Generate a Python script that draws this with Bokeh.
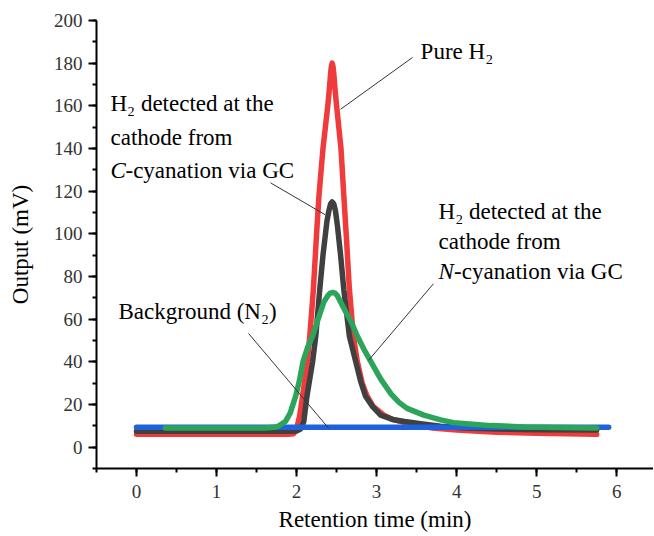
from bokeh.plotting import figure
from bokeh.models import Range1d, SingleIntervalTicker, Label
from bokeh.embed import file_html
from bokeh.resources import INLINE

# ---- data ----
red_x = [0, 1.0, 1.9, 1.96, 1.985, 2.01, 2.04, 2.075, 2.135, 2.165, 2.21, 2.25, 2.28, 2.33,
         2.39, 2.41, 2.425, 2.435, 2.445, 2.455, 2.465, 2.48, 2.50, 2.555, 2.59, 2.62, 2.66,
         2.71, 2.76, 2.82, 2.88, 2.96, 3.09, 3.2, 3.35, 3.5, 3.7, 4.0, 4.5, 5.0, 5.75]
red_y = [6, 6, 6, 6.3, 7.5, 10, 15, 24, 40, 52, 74, 100, 118, 140,
         160, 168, 175, 178.5, 180, 178.5, 175, 168, 160, 140, 118, 100, 74,
         52, 40, 30, 24, 19, 15, 13, 11.5, 10.3, 9, 8, 7, 6.5, 6]

gray_x = [0, 1.9, 2.0, 2.05, 2.09, 2.13, 2.2, 2.24, 2.29, 2.33, 2.38, 2.405, 2.425, 2.445,
          2.465, 2.485, 2.51, 2.55, 2.59, 2.66, 2.74, 2.8, 2.86, 2.95, 3.05, 3.2, 3.35, 3.55,
          3.8, 4.1, 4.5, 5.0, 5.75]
gray_y = [7.5, 7.5, 7.6, 8.5, 12, 24, 40, 52, 74, 90, 106, 111, 114, 115,
          114, 111, 104, 90, 74, 52, 40, 31, 24, 19, 15, 13, 12, 11,
          9.8, 9, 8.5, 8.2, 8]

green_x = [0.36, 1.0, 1.6, 1.72, 1.78, 1.86, 1.92, 1.99, 2.04, 2.08, 2.14, 2.2, 2.26, 2.34,
           2.39, 2.42, 2.45, 2.48, 2.51, 2.55, 2.62, 2.68, 2.76, 2.84, 2.93, 3.05, 3.18, 3.28,
           3.38, 3.59, 3.8, 3.96, 4.2, 4.43, 4.84, 5.3, 5.75]
green_y = [9, 9, 9, 9.3, 10, 12, 16, 24, 32, 40, 47, 52, 59, 68,
           71, 72.2, 72.5, 72.2, 71, 68, 63, 59, 52, 46, 40, 32, 25, 21,
           18.2, 15, 12.8, 11.5, 10.7, 10.1, 9.5, 9.2, 9]

blue_x = [0, 5.9]
blue_y = [9.3, 9.3]

# annotation anchors (data units)
pure_label = (3.55, 185.5)
pure_line = ([3.45, 2.55], [182.7, 158.4])
c_label = (-0.325, [161.1, 145.2, 129.6])
c_line = ([1.675, 2.36], [123.9, 108.9])
n_label = (3.775, [110.6, 96.6, 82.5])
n_line = ([3.71, 2.9], [76.6, 40.7])
bg_label = (-0.225, 63.8)
bg_line = ([1.4, 2.4], [53.3, 8.9])

RED = "#EF3B3B"
GRAY = "#404040"
GREEN = "#2CA55B"
BLUE = "#1E63DC"
FONT = "'Liberation Serif', 'Times New Roman', serif"

p = figure(width=653, height=534, output_backend="svg", toolbar_location=None,
           x_range=Range1d(-0.5, 6.46), y_range=Range1d(-10, 200),
           min_border_left=96, min_border_right=0, min_border_top=20, min_border_bottom=65)
p.outline_line_color = None
p.xgrid.visible = False
p.ygrid.visible = False
p.background_fill_color = "white"

for ax, interval in ((p.xaxis, 1), (p.yaxis, 20)):
    ax.ticker = SingleIntervalTicker(interval=interval, num_minor_ticks=2)
    ax.axis_line_width = 2
    ax.axis_line_color = "black"
    ax.major_tick_line_width = 2
    ax.minor_tick_line_width = 2
    ax.major_tick_out = 8
    ax.major_tick_in = 0
    ax.minor_tick_out = 4
    ax.minor_tick_in = 0
    ax.major_label_text_font = FONT
    ax.major_label_text_font_size = "19px"
    ax.major_label_text_color = "#333333"
    ax.axis_label_text_font = FONT
    ax.axis_label_text_font_size = "23px"
    ax.axis_label_text_font_style = "normal"
    ax.axis_label_text_color = "black"

p.xaxis.axis_label = "Retention time (min)"
p.yaxis.axis_label = "Output (mV)"
p.xaxis.major_label_standoff = 8
p.yaxis.major_label_standoff = 6
p.xaxis.axis_label_standoff = 6
p.yaxis.axis_label_standoff = 18

W = 5.5
p.line(red_x, red_y, line_color=RED, line_width=W, line_cap="round", line_join="round")
p.line(gray_x, gray_y, line_color=GRAY, line_width=W, line_cap="round", line_join="round")
p.line(blue_x, blue_y, line_color=BLUE, line_width=W, line_cap="round", line_join="round")
p.line(green_x, green_y, line_color=GREEN, line_width=W, line_cap="round", line_join="round")

for lx, ly in (pure_line, c_line, n_line, bg_line):
    p.line(lx, ly, line_color="#333333", line_width=1)

def lab(x, y, text, style="normal", xoff=0):
    p.add_layout(Label(x=x, y=y, text=text, x_offset=xoff, text_font=FONT,
                       text_font_size="23px", text_font_style=style,
                       text_color="black", text_baseline="alphabetic", text_align="left"))

lab(pure_label[0], pure_label[1], "Pure H\u2082")
lab(c_label[0], c_label[1][0], "H\u2082 detected at the")
lab(c_label[0], c_label[1][1], "cathode from")
lab(c_label[0], c_label[1][2], "C", style="italic")
lab(c_label[0], c_label[1][2], "-cyanation via GC", xoff=15)
lab(n_label[0], n_label[1][0], "H\u2082 detected at the")
lab(n_label[0], n_label[1][1], "cathode from")
lab(n_label[0], n_label[1][2], "N", style="italic")
lab(n_label[0], n_label[1][2], "-cyanation via GC", xoff=15.5)
lab(bg_label[0], bg_label[1], "Background (N\u2082)")

open("out.html", "w").write(file_html(p, INLINE))
